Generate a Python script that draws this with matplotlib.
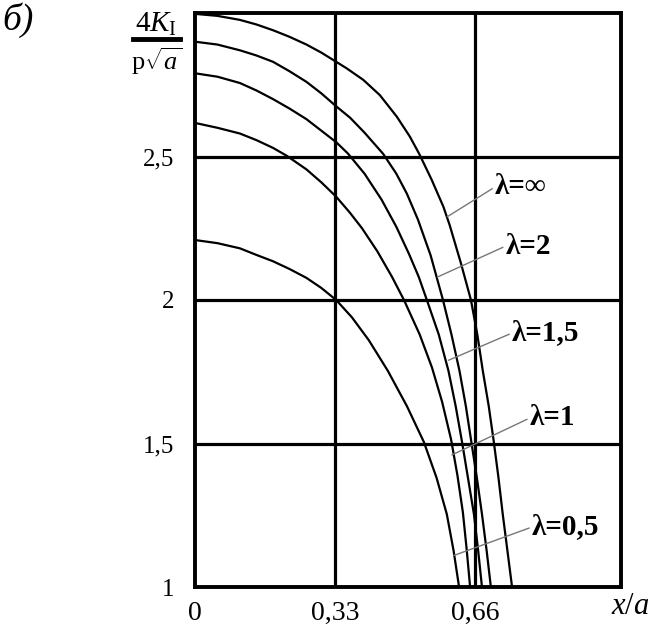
import matplotlib
matplotlib.use('Agg')
import matplotlib.pyplot as plt
from matplotlib.lines import Line2D

plt.rcParams['font.family'] = ['Liberation Serif', 'DejaVu Serif']
plt.rcParams['mathtext.fontset'] = 'custom'
plt.rcParams['mathtext.rm'] = 'Liberation Serif'
plt.rcParams['mathtext.it'] = 'Liberation Serif:italic'

# ---- data ----
curve_labels = ['λ=∞', 'λ=2', 'λ=1,5', 'λ=1', 'λ=0,5']

x_inf = [0, 0.053, 0.106, 0.145, 0.184, 0.223, 0.263, 0.298, 0.333, 0.358, 0.397, 0.436,
         0.476, 0.507, 0.529, 0.558, 0.586, 0.601, 0.627, 0.651, 0.666, 0.679, 0.693,
         0.705, 0.716, 0.726, 0.737, 0.748]
y_inf = [2.997, 2.990, 2.976, 2.960, 2.94, 2.917, 2.89, 2.862, 2.83, 2.807, 2.767, 2.714,
         2.639, 2.569, 2.509, 2.42, 2.325, 2.26, 2.13, 2.0, 1.88, 1.753, 1.63,
         1.505, 1.38, 1.254, 1.127, 1.0]

x_l2 = [0, 0.053, 0.106, 0.145, 0.184, 0.223, 0.263, 0.298, 0.333, 0.366, 0.40, 0.444,
        0.475, 0.50, 0.526, 0.556, 0.585, 0.605, 0.624, 0.639, 0.652, 0.665, 0.677,
        0.688, 0.698]
y_l2 = [2.90, 2.89, 2.87, 2.852, 2.83, 2.797, 2.76, 2.72, 2.675, 2.635, 2.583, 2.509,
        2.44, 2.37, 2.28, 2.155, 2.0, 1.88, 1.753, 1.63, 1.505, 1.38, 1.254,
        1.127, 1.0]

x_l15 = [0, 0.053, 0.106, 0.145, 0.184, 0.223, 0.263, 0.298, 0.333, 0.361, 0.40, 0.44,
         0.475, 0.505, 0.528, 0.547, 0.575, 0.598, 0.615, 0.630, 0.644, 0.658, 0.668, 0.677]
y_l15 = [2.79, 2.778, 2.756, 2.73, 2.70, 2.667, 2.63, 2.59, 2.55, 2.51, 2.44, 2.35,
         2.255, 2.16, 2.08, 2.0, 1.88, 1.753, 1.63, 1.505, 1.38, 1.254, 1.127, 1.0]

x_l1 = [0, 0.053, 0.106, 0.145, 0.184, 0.217, 0.263, 0.298, 0.333, 0.365, 0.394, 0.43,
        0.465, 0.493, 0.53, 0.559, 0.583, 0.604, 0.619, 0.632, 0.641, 0.649]
y_l1 = [2.617, 2.60, 2.58, 2.557, 2.53, 2.502, 2.455, 2.41, 2.36, 2.305, 2.25, 2.17,
        2.08, 2.0, 1.88, 1.765, 1.645, 1.515, 1.39, 1.26, 1.13, 1.0]

x_l05 = [0, 0.053, 0.106, 0.145, 0.184, 0.223, 0.263, 0.298, 0.333, 0.37, 0.41, 0.455,
         0.50, 0.54, 0.57, 0.594, 0.61, 0.623]
y_l05 = [2.209, 2.198, 2.18, 2.157, 2.135, 2.108, 2.077, 2.042, 2.0, 1.94, 1.86, 1.753,
         1.63, 1.505, 1.38, 1.254, 1.127, 1.0]

x_ticks = [0, 0.33, 0.66]
x_ticklabels = ['0', '0,33', '0,66']
y_ticks = [1, 1.5, 2, 2.5]
y_ticklabels = ['1', '1,5', '2', '2,5']

series = [(x_inf, y_inf), (x_l2, y_l2), (x_l15, y_l15), (x_l1, y_l1), (x_l05, y_l05)]

# ---- layout ----
W, H = 656, 626
fig = plt.figure(figsize=(W / 100, H / 100), dpi=100)
ax = fig.add_axes([195 / W, 1 - 587 / H, (621 - 195) / W, (587 - 13) / H])

for xs, ys in series:
    ax.plot(xs, ys, color='black', lw=1.6, solid_joinstyle='round', clip_on=True, zorder=3)

ax.set_xlim(0, 1.005)
ax.set_ylim(1, 3)

for xv in x_ticks[1:]:
    ax.axvline(xv, color='black', lw=2.3, zorder=2)
for yv in y_ticks[1:]:
    ax.axhline(yv, color='black', lw=2.3, zorder=2)

for s in ax.spines.values():
    s.set_linewidth(2.8)

ax.set_xticks(x_ticks)
ax.set_xticklabels(x_ticklabels)
ax.set_yticks(y_ticks)
ax.set_yticklabels(y_ticklabels)
ax.tick_params(length=0)
ax.tick_params(axis='y', labelsize=18, pad=15)
ax.tick_params(axis='x', labelsize=20, pad=10)

# curve annotations with leader lines
ann_text_pos = [(0.708, 2.394), (0.733, 2.188), (0.748, 1.885), (0.790, 1.589), (0.795, 1.209)]
ann_point_pos = [(0.595, 2.29), (0.572, 2.08), (0.598, 1.79), (0.606, 1.46), (0.611, 1.11)]
for lab, tp, pp in zip(curve_labels, ann_text_pos, ann_point_pos):
    ax.annotate(lab, xy=pp, xytext=tp, textcoords='data', fontsize=21, fontweight='bold',
                ha='left', va='center',
                arrowprops=dict(arrowstyle='-', color='#777777', lw=1.0,
                                shrinkA=0, shrinkB=0, relpos=(0, 0.5)),
                zorder=5)

# x axis name
fig.text(630 / W, 1 - 607 / H, r'$x/a$', fontsize=22, ha='center', va='center')

# y axis name as fraction
fig.text(156 / W, 1 - 24 / H, r'$4K_{\mathrm{I}}$', fontsize=21, ha='center', va='center')
fig.add_artist(Line2D([133 / W, 180 / W], [1 - 39 / H, 1 - 39 / H], color='black', lw=3.5,
                      transform=fig.transFigure))
fig.text(157 / W, 1 - 61 / H, r'$\mathrm{p}\sqrt{a}$', fontsize=19, ha='center', va='center')

# panel letter
fig.text(2 / W, 1 - 20 / H, 'б)', fontsize=27, style='italic', ha='left', va='center')

fig.savefig('out.png', dpi=100)
